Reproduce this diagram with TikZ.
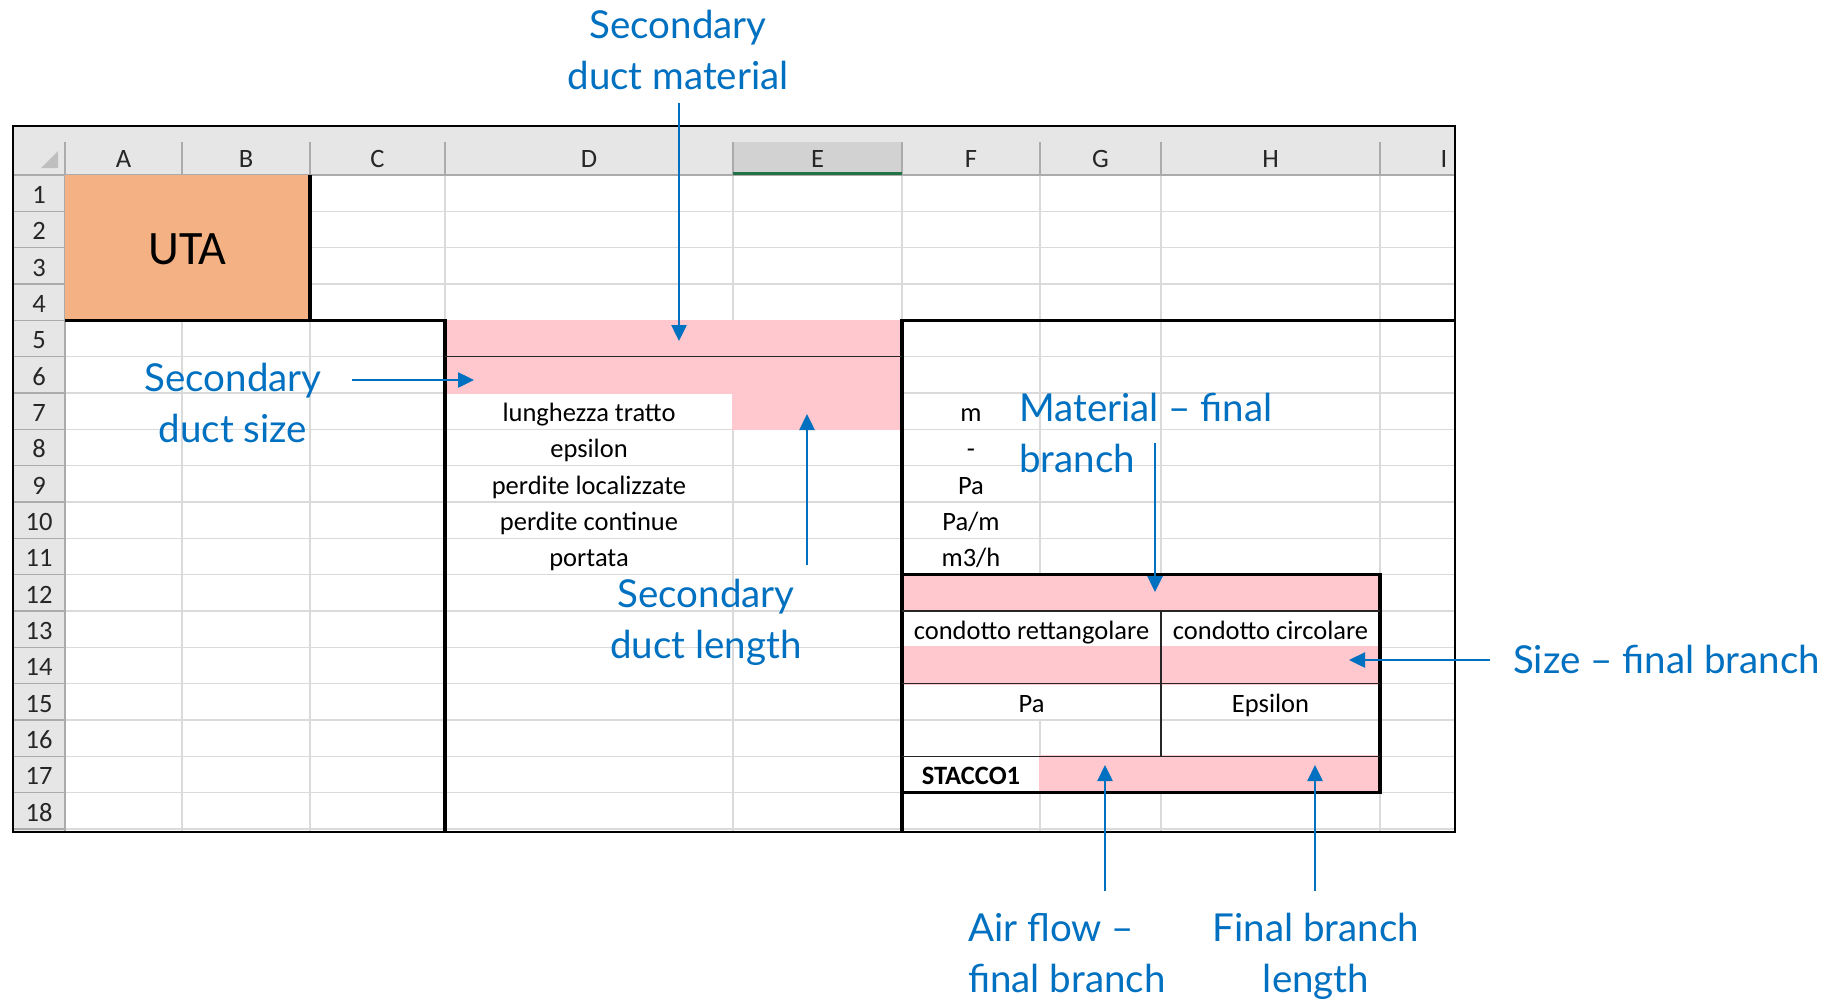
\documentclass[tikz,border=0pt]{standalone}
\usepackage{fontspec}
\setmainfont{Carlito}
\newfontfamily\callfont{Lato}
\usetikzlibrary{arrows.meta}
\definecolor{pinkfill}{HTML}{FFC7CE}
\definecolor{utafill}{HTML}{F4B183}
\definecolor{hdrbg}{HTML}{E6E6E6}
\definecolor{hdrsel}{HTML}{D2D2D2}
\definecolor{xlgreen}{HTML}{217346}
\definecolor{gridc}{HTML}{DADADA}
\definecolor{hdrline}{HTML}{ABABAB}
\definecolor{callblue}{HTML}{0070C0}
\begin{document}
\begin{tikzpicture}[x=1pt,y=-1pt,
  cell/.style={font=\fontsize{26.5}{30}\selectfont, inner sep=0pt, anchor=base, text=black},
  boldcell/.style={cell, font=\fontsize{26.5}{30}\selectfont\bfseries},
  hdr/.style={font=\fontsize{26.5}{30}\selectfont, inner sep=0pt, anchor=base, text=black!85},
  call/.style={font=\callfont\fontsize{38.5}{51}\selectfont, text=callblue, inner sep=0pt},
  callarrow/.style={draw=callblue, line width=2.5pt, -{Triangle[length=16pt,width=15pt]}},
  gridline/.style={draw=gridc, line width=1.5pt},
  hdrsep/.style={draw=hdrline, line width=1.5pt},
  heavyborder/.style={draw=black, line width=3.2pt},
  lightborder/.style={draw=black!85, line width=1.5pt},
]
% canvas
\fill[white] (0,0) rectangle (1844,1002);
\useasboundingbox (0,0) rectangle (1844,1002);

% header band and row-number column
\fill[hdrbg] (13,126) rectangle (1455,175);
\fill[hdrbg] (13,175) rectangle (65,832);
\fill[hdrsel] (733,142) rectangle (902,175);
\fill[black!25] (58,151) -- (58,168) -- (41,168) -- cycle;

% grid lines
\foreach \r in {1,...,18}
  \draw[gridline] (65,{175+\r*36.333}) -- (1455,{175+\r*36.333});
\foreach \x in {182,310,445,733,902,1040,1161,1380}
  \draw[gridline] (\x,175) -- (\x,832);

% header separators
\foreach \x in {65,182,310,445,733,902,1040,1161,1380}
  \draw[hdrsep] (\x,142) -- (\x,175);
\foreach \r in {1,...,18}
  \draw[hdrsep] (13,{175+\r*36.333}) -- (65,{175+\r*36.333});
\draw[hdrline, line width=2pt] (13,175) -- (1455,175);
\draw[hdrline, line width=2pt] (65,175) -- (65,832);
\draw[xlgreen, line width=3pt] (733,173.5) -- (902,173.5);

% fills
\fill[utafill] (65,175) rectangle (310,320.3);
\fill[pinkfill] (444,319.5) rectangle (903,394);
\fill[pinkfill] (732,392) rectangle (903,430.3);
\fill[pinkfill] (901,573.7) rectangle (1381,612);
\fill[pinkfill] (901,646.3) rectangle (1381,684.7);
\fill[pinkfill] (1039,755.3) rectangle (1381,793.7);
\fill[white] (903,612) rectangle (1160,646.3);
\fill[white] (903,684.7) rectangle (1160,719);

% borders
\draw[heavyborder] (310,175) -- (310,320.3);
\draw[heavyborder] (65,320.3) -- (445,320.3) -- (445,832);
\draw[heavyborder] (902,832) -- (902,320.3) -- (1455,320.3);
\draw[heavyborder] (902,574.7) -- (1380,574.7) -- (1380,792.7) -- (902,792.7) -- (902,832);
\draw[lightborder] (445,356.7) -- (902,356.7);
\draw[lightborder] (902,611) -- (1380,611);
\draw[lightborder] (902,683.7) -- (1380,683.7);
\draw[lightborder] (902,756.3) -- (1380,756.3);
\draw[lightborder] (1161,611) -- (1161,756.3);

% outer frame
\draw[black, line width=2pt] (13,126) rectangle (1455,832);

% column letters
\node[hdr] (hA) at (123.5,167) {A};
\node[hdr] (hB) at (246,167) {B};
\node[hdr] (hC) at (377.5,167) {C};
\node[hdr] (hD) at (589,167) {D};
\node[hdr] (hE) at (817.5,167) {E};
\node[hdr] (hF) at (971,167) {F};
\node[hdr] (hG) at (1100.5,167) {G};
\node[hdr] (hH) at (1270.5,167) {H};
\node[hdr] (hI) at (1444,167) {I};

% row numbers
\foreach \r in {1,...,18}
  \node[hdr] (row\r) at (39,{175+\r*36.333-8}) {\r};

% cell texts
\node[cell, font=\fontsize{48}{52}\selectfont] (uta) at (187.5,264) {UTA};
\node[cell] (d7) at (589,421.3) {lunghezza tratto};
\node[cell] (d8) at (589,457.7) {epsilon};
\node[cell] (d9) at (589,494) {perdite localizzate};
\node[cell] (d10) at (589,530.3) {perdite continue};
\node[cell] (d11) at (589,566.7) {portata};
\node[cell] (f7) at (971,421.3) {m};
\node[cell] (f8) at (971,457.7) {-};
\node[cell] (f9) at (971,494) {Pa};
\node[cell] (f10) at (971,530.3) {Pa/m};
\node[cell] (f11) at (971,566.7) {m3/h};
\node[cell] (f13) at (1031.5,639.3) {condotto rettangolare};
\node[cell] (h13) at (1270.5,639.3) {condotto circolare};
\node[cell] (f15) at (1031.5,712) {Pa};
\node[cell] (h15) at (1270.5,712) {Epsilon};
\node[boldcell] (f17) at (971,784.7) {STACCO1};

% callouts (anchor=base = baseline of the last line)
\node[call, align=center, anchor=base] (cMat) at (678,89) {Secondary\\duct material};
\node[call, align=center, anchor=base] (cSize) at (233,442) {Secondary\\duct size};
\node[call, align=center, anchor=base] (cLen) at (706,658) {Secondary\\duct length};
\node[call, align=left, anchor=base west] (cFinMat) at (1019,472) {Material – final\\branch};
\node[call, anchor=base west] (cFinSize) at (1513,673) {Size – final branch};
\node[call, align=left, anchor=base west] (cAir) at (968,992) {Air flow –\\final branch};
\node[call, align=center, anchor=base] (cFinLen) at (1316,992) {Final branch\\length};

% arrows
\coordinate (a1s) at (679,103); \coordinate (a1e) at (679,341);
\coordinate (a2s) at (352,380); \coordinate (a2e) at (474,380);
\coordinate (a3s) at (807,565); \coordinate (a3e) at (807,414);
\coordinate (a4s) at (1155,443); \coordinate (a4e) at (1155,592);
\coordinate (a5s) at (1490,660); \coordinate (a5e) at (1349,660);
\coordinate (a6s) at (1105,891); \coordinate (a6e) at (1105,765);
\coordinate (a7s) at (1315,891); \coordinate (a7e) at (1315,765);
\draw[callarrow] (a1s) -- (a1e);
\draw[callarrow] (a2s) -- (a2e);
\draw[callarrow] (a3s) -- (a3e);
\draw[callarrow] (a4s) -- (a4e);
\draw[callarrow] (a5s) -- (a5e);
\draw[callarrow] (a6s) -- (a6e);
\draw[callarrow] (a7s) -- (a7e);
\end{tikzpicture}
\end{document}
